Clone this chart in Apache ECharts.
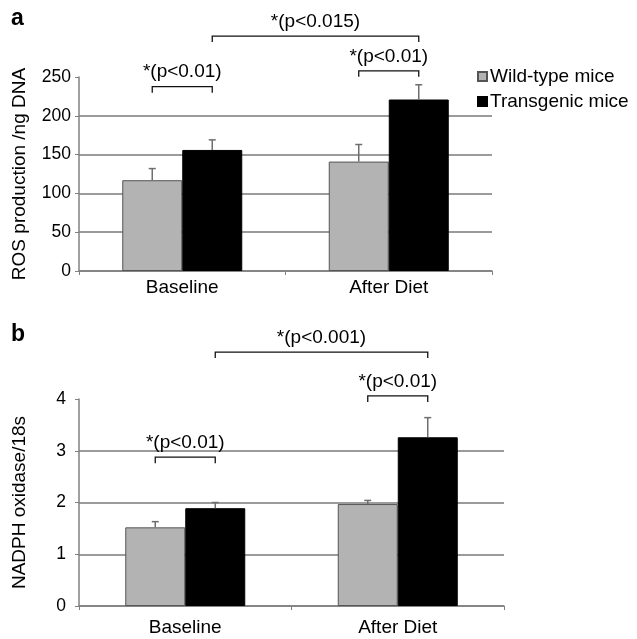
<!DOCTYPE html>
<html><head><meta charset="utf-8">
<script src="https://cdn.jsdelivr.net/npm/echarts@6/dist/echarts.min.js"></script>
<style>html,body{margin:0;padding:0;background:#fff}#c{width:637px;height:639px}</style>
</head><body><div id="c"></div>
<script>
const categories = ['Baseline', 'After Diet'];
const seriesNames = ['Wild-type mice', 'Transgenic mice'];
// Panel a: ROS production /ng DNA
const rosWild = [117, 141];
const rosWildErr = [15, 22];
const rosTrans = [156, 221];
const rosTransErr = [13, 19];
const rosTicks = { min: 0, max: 250, interval: 50 };
// Panel b: NADPH oxidase/18s
const nadWild = [1.52, 1.97];
const nadWildErr = [0.11, 0.07];
const nadTrans = [1.89, 3.26];
const nadTransErr = [0.11, 0.38];
const nadTicks = { min: 0, max: 4, interval: 1 };
// Brackets: [fromCategory, fromSide(-1 wild, 1 transgenic), toCategory, toSide, level]
const rosBrackets = [[0, -1, 0, 1, 237.5], [0, 1, 1, 1, 302.8], [1, -1, 1, 1, 258]];
const rosBracketLabels = ['*(p<0.01)', '*(p<0.015)', '*(p<0.01)'];
const nadBrackets = [[0, -1, 0, 1, 2.876], [0, 1, 1, 1, 4.907], [1, -1, 1, 1, 4.06]];
const nadBracketLabels = ['*(p<0.01)', '*(p<0.001)', '*(p<0.01)'];

const FONT = '"Liberation Sans", Arial, sans-serif';
const BW = 60;
const GRAY = '#b3b3b3';
const chart = echarts.init(document.getElementById('c'));

function errRender(side) {
  return function (params, api) {
    const b = api.coord([api.value(0), api.value(1)]);
    const t = api.coord([api.value(0), api.value(1) + api.value(2)]);
    const x = b[0] + side * BW / 2;
    return { type: 'group', children: [
      { type: 'line', shape: { x1: x, y1: b[1], x2: x, y2: t[1] }, style: { stroke: '#6e6e6e', lineWidth: 1.5 } },
      { type: 'line', shape: { x1: x - 3.5, y1: t[1], x2: x + 3.5, y2: t[1] }, style: { stroke: '#6e6e6e', lineWidth: 1.5 } }
    ]};
  };
}
function bracketRender(labels) {
  return function (params, api) {
    const p1 = api.coord([api.value(0), api.value(4)]);
    const p2 = api.coord([api.value(2), api.value(4)]);
    const x1 = p1[0] + api.value(1) * BW / 2, x2 = p2[0] + api.value(3) * BW / 2, y = p1[1];
    return { type: 'group', children: [
      { type: 'polyline', shape: { points: [[x1, y + 6], [x1, y], [x2, y], [x2, y + 6]] }, style: { stroke: '#111', lineWidth: 1.3, fill: null } },
      { type: 'text', x: (x1 + x2) / 2, y: y - 5, style: { text: labels[params.dataIndex], textAlign: 'center', textVerticalAlign: 'bottom', font: '19px ' + FONT, fill: '#000' } }
    ]};
  };
}
function errData(vals, errs) { return vals.map((v, i) => [i, v, errs[i]]); }

function xAxisFor(gi, margin) {
  return { type: 'category', gridIndex: gi, data: categories,
    axisLine: { lineStyle: { color: '#808080', width: 1.5 } },
    axisTick: { show: true, length: 4, lineStyle: { color: '#808080' } },
    axisLabel: { color: '#000', fontSize: 19, fontFamily: FONT, margin: margin } };
}
function yAxisFor(gi, ticks, name, margin) {
  return { type: 'value', gridIndex: gi, min: ticks.min, max: ticks.max, interval: ticks.interval,
    name: name, nameLocation: 'middle', nameGap: 50, nameRotate: 90,
    nameTextStyle: { color: '#000', fontSize: 19, fontFamily: FONT },
    axisLine: { show: true, lineStyle: { color: '#808080', width: 1.5 } },
    axisTick: { show: true, length: 4, lineStyle: { color: '#808080' } },
    axisLabel: { color: '#000', fontSize: 17.5, fontFamily: FONT, margin: margin },
    splitLine: { show: true, showMaxLine: false, lineStyle: { color: '#7a7a7a', width: 1.6 } } };
}
function bars(gi, data, color, name) {
  return { type: 'bar', name: name, xAxisIndex: gi, yAxisIndex: gi, data: data, barWidth: BW, barGap: '0%',
    itemStyle: { color: color, borderColor: color === GRAY ? '#555' : '#000', borderWidth: 1 } };
}

chart.setOption({
  animation: false,
  backgroundColor: '#fff',
  title: [
    { text: 'a', left: 6, top: 2, textStyle: { fontSize: 23, fontWeight: 'bold', fontFamily: FONT, color: '#000' } },
    { text: 'b', left: 6, top: 318, textStyle: { fontSize: 23, fontWeight: 'bold', fontFamily: FONT, color: '#000' } }
  ],
  legend: { data: seriesNames, orient: 'vertical', left: 472, top: 62, itemWidth: 9, itemHeight: 9, itemGap: 6,
    icon: 'rect', textStyle: { fontSize: 19, fontFamily: FONT, color: '#000', padding: [0, 0, 0, -2] } },
  grid: [
    { left: 79, right: 145, top: 77, bottom: 368 },
    { left: 79, right: 133, top: 399, bottom: 33 }
  ],
  xAxis: [xAxisFor(0, 7), xAxisFor(1, 12)],
  yAxis: [yAxisFor(0, rosTicks, 'ROS production /ng DNA', 8), yAxisFor(1, nadTicks, 'NADPH oxidase/18s', 13)],
  series: [
    bars(0, rosWild, GRAY, seriesNames[0]),
    bars(0, rosTrans, '#000', seriesNames[1]),
    bars(1, nadWild, GRAY, seriesNames[0]),
    bars(1, nadTrans, '#000', seriesNames[1]),
    { type: 'custom', xAxisIndex: 0, yAxisIndex: 0, clip: false, renderItem: errRender(-1), data: errData(rosWild, rosWildErr), z: 5 },
    { type: 'custom', xAxisIndex: 0, yAxisIndex: 0, clip: false, renderItem: errRender(1), data: errData(rosTrans, rosTransErr), z: 5 },
    { type: 'custom', xAxisIndex: 1, yAxisIndex: 1, clip: false, renderItem: errRender(-1), data: errData(nadWild, nadWildErr), z: 5 },
    { type: 'custom', xAxisIndex: 1, yAxisIndex: 1, clip: false, renderItem: errRender(1), data: errData(nadTrans, nadTransErr), z: 5 },
    { type: 'custom', xAxisIndex: 0, yAxisIndex: 0, clip: false, renderItem: bracketRender(rosBracketLabels), data: rosBrackets, z: 6 },
    { type: 'custom', xAxisIndex: 1, yAxisIndex: 1, clip: false, renderItem: bracketRender(nadBracketLabels), data: nadBrackets, z: 6 }
  ]
});
</script></body></html>
